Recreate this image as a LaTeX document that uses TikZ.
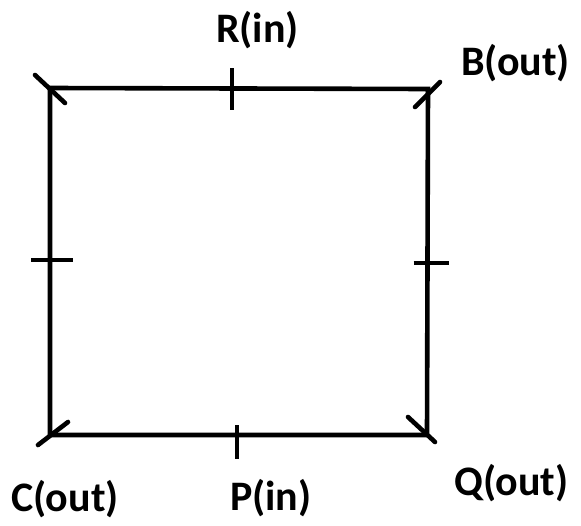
\documentclass[tikz,border=0pt]{standalone}
\usepackage{fontspec}
\setmainfont{Carlito}
\usetikzlibrary{calc}
\begin{document}
\begin{tikzpicture}[x=1pt,y=-1pt,
  edge/.style={line width=4.6pt,line join=miter,black},
  tick/.style={line width=4.6pt,line cap=round,black},
  lbl/.style={anchor=base west,inner sep=0pt,font=\fontsize{42}{50}\selectfont\bfseries}]
\useasboundingbox (0,0) rectangle (581,525);
\coordinate (tl) at (50,88);
\coordinate (tr) at (428,89);
\coordinate (bl) at (50,435);
\coordinate (br) at (427,435);
\draw[edge] (tl) -- (tr) -- (br) -- (bl) -- cycle;
% corner ticks
\draw[tick] ($(tl)+(-15,-13)$) -- ($(tl)+(15,15)$);
\draw[tick] ($(tr)+(-13,18)$) -- ($(tr)+(12,-7)$);
\draw[tick] ($(bl)+(-12,10)$) -- ($(bl)+(18,-13)$);
\draw[tick] ($(br)+(-19,-18)$) -- ($(br)+(8,7)$);
% midpoint ticks
\coordinate (mt) at (232,88);
\coordinate (mb) at (237,435);
\coordinate (ml) at (50,260);
\coordinate (mr) at (427.5,263);
\draw[tick,line cap=butt] ($(mt)+(0,-20)$) -- ($(mt)+(0,22)$);
\draw[tick,line cap=butt] ($(mb)+(0,-10)$) -- ($(mb)+(0,24)$);
\draw[tick,line cap=butt] ($(ml)+(-19,0)$) -- ($(ml)+(23,0)$);
\draw[tick,line cap=butt] ($(mr)+(-14,0)$) -- ($(mr)+(21,0)$);
% labels
\node[lbl] (R) at (216,42) {R(in)};
\node[lbl] (B) at (461,75) {B(out)};
\node[lbl] (C) at (11,511) {C(out)};
\node[lbl] (P) at (230,510) {P(in)};
\node[lbl] (Q) at (454,495) {Q(out)};
\end{tikzpicture}
\end{document}
